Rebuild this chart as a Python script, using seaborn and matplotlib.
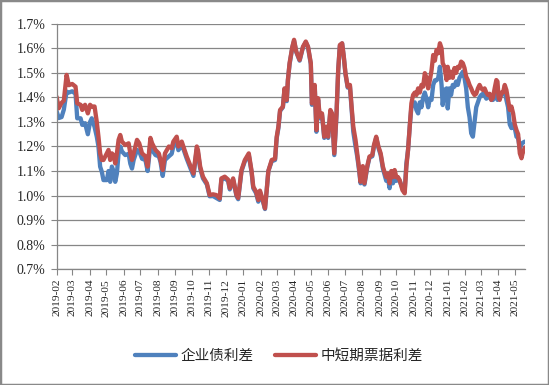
import pandas as pd
import seaborn as sns
import matplotlib.pyplot as plt
import matplotlib.dates as mdates
from matplotlib.ticker import FuncFormatter, MultipleLocator
from matplotlib.patches import Rectangle

# days since 2019-02-01
days = [0, 4, 9, 13, 18, 22, 28, 34, 37, 43, 46, 51, 56, 60, 63, 68, 72, 75, 78, 81,
        84, 90, 93, 96, 99, 102, 105, 108, 111, 114, 117, 123, 129, 132, 135, 138, 144, 148, 153, 159,
        163, 168, 171, 177, 183, 186, 190, 194, 201, 206, 209, 215, 218, 224, 227, 233, 239, 245, 251, 253,
        257, 262, 269, 274, 280, 286, 292, 295, 301, 307, 310, 316, 322, 325, 331, 337, 344, 349, 352, 357,
        361, 364, 370, 373, 376, 379, 385, 391, 394, 397, 400, 405, 408, 412, 414, 417, 422, 425, 429, 435,
        441, 446, 450, 455, 457, 462, 465, 468, 471, 475, 479, 483, 486, 490, 493, 497, 501, 504, 507, 511,
        514, 517, 521, 525, 528, 531, 535, 538, 541, 544, 548, 551, 556, 560, 565, 568, 572, 576, 580, 584,
        587, 590, 593, 596, 599, 602, 605, 608, 611, 614, 619, 623, 626, 629, 632, 635, 638, 641, 644, 647,
        650, 653, 656, 659, 662, 665, 668, 671, 674, 677, 680, 683, 686, 689, 691, 694, 698, 700, 703, 706,
        709, 712, 715, 718, 721, 724, 727, 730, 733, 736, 739, 742, 745, 748, 751, 754, 757, 760, 763, 766,
        769, 772, 775, 778, 781, 784, 787, 789, 791, 793, 796, 799, 802, 805, 808, 811, 814, 817, 820, 823,
        826, 829, 832, 834, 838]

# 中短期票据利差 (%)
note_spread = [1.403, 1.356, 1.378, 1.387, 1.492, 1.45, 1.455, 1.444, 1.376, 1.37, 1.349, 1.37, 1.335, 1.37, 1.363, 1.363, 1.30, 1.24, 1.172, 1.145,
               1.145, 1.172, 1.186, 1.145, 1.172, 1.165, 1.131, 1.172, 1.227, 1.247, 1.22, 1.206, 1.213, 1.172, 1.145, 1.172, 1.227, 1.213, 1.172, 1.16,
               1.118, 1.235, 1.213, 1.186, 1.172, 1.145, 1.104, 1.172, 1.20, 1.193, 1.22, 1.24, 1.20, 1.22, 1.20, 1.159, 1.125, 1.09, 1.20, 1.186,
               1.118, 1.077, 1.05, 1.002, 1.005, 1.002, 0.988, 1.07, 1.077, 1.065, 1.03, 1.07, 1.002, 0.99, 1.104, 1.145, 1.172, 1.10, 1.036, 1.016,
               0.982, 1.02, 0.975, 0.948, 1.02, 1.10, 1.145, 1.15, 1.24, 1.281, 1.349, 1.362, 1.437, 1.39, 1.471, 1.54, 1.607, 1.635, 1.587, 1.553,
               1.607, 1.628, 1.607, 1.54, 1.376, 1.451, 1.267, 1.397, 1.322, 1.335, 1.24, 1.281, 1.24, 1.349, 1.335, 1.172, 1.335, 1.512, 1.614, 1.621,
               1.567, 1.499, 1.444, 1.451, 1.362, 1.281, 1.227, 1.172, 1.118, 1.056, 1.12, 1.05, 1.12, 1.159, 1.165, 1.206, 1.24, 1.20, 1.172, 1.118,
               1.095, 1.075, 1.09, 1.05, 1.10, 1.075, 1.104, 1.075, 1.075, 1.063, 1.022, 1.009, 1.118, 1.186, 1.281, 1.376, 1.41, 1.42, 1.41, 1.437,
               1.42, 1.451, 1.444, 1.499, 1.48, 1.437, 1.47, 1.51, 1.573, 1.55, 1.594, 1.58, 1.621, 1.60, 1.54, 1.525, 1.471, 1.525, 1.48, 1.505,
               1.48, 1.52, 1.50, 1.525, 1.52, 1.546, 1.54, 1.52, 1.485, 1.471, 1.451, 1.437, 1.42, 1.41, 1.415, 1.437, 1.451, 1.437, 1.43, 1.437,
               1.42, 1.41, 1.415, 1.39, 1.40, 1.437, 1.471, 1.465, 1.40, 1.39, 1.42, 1.42, 1.451, 1.43, 1.39, 1.349, 1.363, 1.335, 1.29, 1.267,
               1.25, 1.172, 1.152, 1.172, 1.196]

# 企业债利差 (%)
corp_spread = [1.345, 1.316, 1.32, 1.35, 1.424, 1.42, 1.425, 1.415, 1.315, 1.315, 1.288, 1.295, 1.25, 1.30, 1.315, 1.28, 1.24, 1.20, 1.118, 1.097,
               1.063, 1.063, 1.10, 1.056, 1.118, 1.10, 1.056, 1.09, 1.173, 1.20, 1.18, 1.165, 1.17, 1.13, 1.11, 1.145, 1.186, 1.18, 1.15, 1.145,
               1.10, 1.21, 1.186, 1.165, 1.16, 1.138, 1.08, 1.145, 1.16, 1.17, 1.20, 1.22, 1.185, 1.205, 1.19, 1.15, 1.115, 1.08, 1.19, 1.175,
               1.11, 1.07, 1.045, 0.997, 0.998, 0.99, 0.982, 1.065, 1.07, 1.06, 1.025, 1.065, 0.998, 0.985, 1.10, 1.14, 1.165, 1.095, 1.03, 1.01,
               0.975, 1.015, 0.97, 0.945, 1.02, 1.10, 1.14, 1.145, 1.235, 1.275, 1.345, 1.36, 1.435, 1.385, 1.47, 1.535, 1.605, 1.63, 1.585, 1.55,
               1.605, 1.625, 1.605, 1.535, 1.37, 1.445, 1.26, 1.39, 1.315, 1.33, 1.235, 1.275, 1.235, 1.345, 1.33, 1.165, 1.33, 1.51, 1.61, 1.62,
               1.565, 1.495, 1.44, 1.445, 1.355, 1.26, 1.20, 1.16, 1.11, 1.05, 1.115, 1.045, 1.115, 1.155, 1.16, 1.20, 1.235, 1.195, 1.165, 1.11,
               1.085, 1.06, 1.07, 1.03, 1.08, 1.05, 1.08, 1.06, 1.065, 1.06, 1.03, 1.02, 1.13, 1.186, 1.281, 1.36, 1.37, 1.38, 1.349, 1.335,
               1.38, 1.36, 1.40, 1.42, 1.395, 1.36, 1.395, 1.39, 1.451, 1.47, 1.47, 1.48, 1.525, 1.45, 1.369, 1.43, 1.437, 1.355, 1.437, 1.41,
               1.451, 1.444, 1.465, 1.451, 1.48, 1.492, 1.505, 1.48, 1.437, 1.36, 1.32, 1.254, 1.24, 1.30, 1.36, 1.38, 1.40, 1.41, 1.415, 1.41,
               1.395, 1.40, 1.41, 1.39, 1.39, 1.42, 1.40, 1.39, 1.40, 1.40, 1.41, 1.415, 1.43, 1.39, 1.36, 1.29, 1.275, 1.29, 1.275, 1.24,
               1.235, 1.19, 1.21, 1.215, 1.22]

start = pd.Timestamp("2019-02-01")
df = pd.DataFrame({
    "date": start + pd.to_timedelta(days, unit="D"),
    "corp": corp_spread,
    "note": note_spread,
})

sns.set_style("white")
plt.rcParams["font.family"] = ["Liberation Serif", "Noto Sans CJK SC"]

fig = plt.figure(figsize=(5.49, 3.85), dpi=100)
ax = fig.add_axes([0.103, 0.301, 0.853, 0.637])

sns.lineplot(data=df, x="date", y="corp", color="#4F81BD", linewidth=3.1,
             label="企业债利差", ax=ax, solid_joinstyle="round", solid_capstyle="round")
sns.lineplot(data=df, x="date", y="note", color="#C0504D", linewidth=3.1,
             label="中短期票据利差", ax=ax, solid_joinstyle="round", solid_capstyle="round")

# y axis
ax.set_ylim(0.7, 1.7)
ax.yaxis.set_major_locator(MultipleLocator(0.1))
ax.yaxis.set_major_formatter(FuncFormatter(lambda v, p: f"{v:.1f}%"))
ax.grid(axis="y", color="#868686", linewidth=0.9)
ax.set_axisbelow(True)

# x axis
ax.set_xlim(start, start + pd.Timedelta(days=838))
ax.xaxis.set_major_locator(mdates.MonthLocator())
ax.xaxis.set_major_formatter(mdates.DateFormatter("%Y-%m"))
ax.tick_params(axis="x", rotation=90, length=4, color="#868686", pad=3)
ax.tick_params(axis="y", length=4, color="#868686", pad=4)
ax.tick_params(bottom=True, left=True)
ax.set_xlabel("")
ax.set_ylabel("")

fig.canvas.draw()
for lbl in ax.get_xticklabels():
    lbl.set_fontfamily("Liberation Serif")
    lbl.set_fontsize(8.2)
for lbl in ax.get_yticklabels():
    lbl.set_fontfamily("Liberation Serif")
    lbl.set_fontsize(10)

for side in ["top", "right"]:
    ax.spines[side].set_visible(False)
for side in ["left", "bottom"]:
    ax.spines[side].set_color("#868686")
    ax.spines[side].set_linewidth(0.9)

ax.get_legend().remove()
handles, labels = ax.get_legend_handles_labels()
fig.legend(handles, labels, loc="center", bbox_to_anchor=(0.508, 0.076), ncol=2,
           frameon=False, handlelength=2.8, handletextpad=0.3, columnspacing=1.5,
           prop={"family": ["Noto Sans CJK SC"], "size": 10.5})

# chart border
fig.patches.append(Rectangle((0, 0), 1, 1, transform=fig.transFigure, fill=False,
                             edgecolor="#898989", linewidth=2.5))

fig.savefig("out.png", dpi=100)
